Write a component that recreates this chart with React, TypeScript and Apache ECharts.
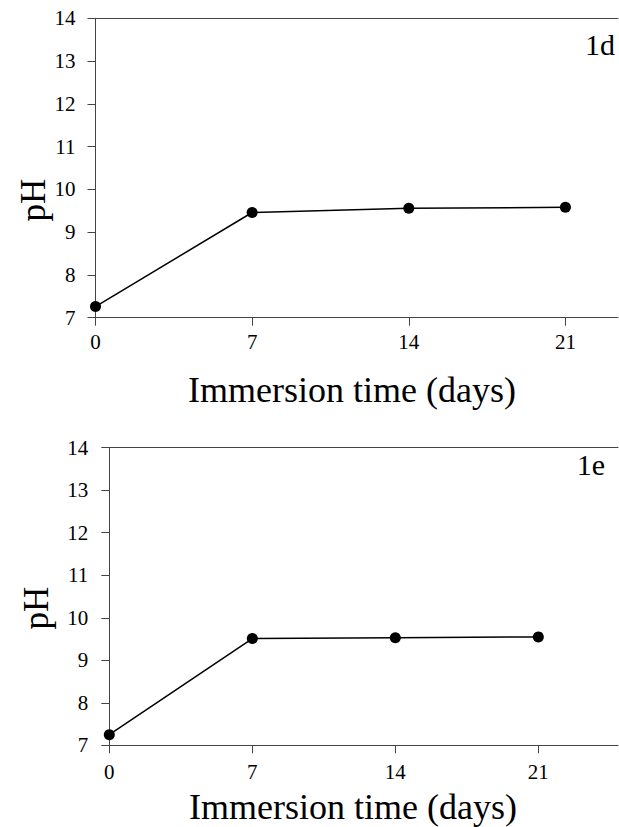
import React, { useEffect, useRef } from "react";
import * as echarts from "echarts";

const days = [0, 7, 14, 21];
const ph1d = [7.26, 9.46, 9.56, 9.58];
const ph1e = [7.25, 9.51, 9.53, 9.55];
const yTicks = [7, 8, 9, 10, 11, 12, 13, 14];
const xTicks = [0, 7, 14, 21];
const panelLabels = ["1d", "1e"];
const xTitle = "Immersion time (days)";
const yTitle = "pH";

const FONT = "'Liberation Serif', 'Times New Roman', serif";
const AXIS_COLOR = "#444";

export default function App() {
  const ref = useRef<HTMLDivElement>(null);
  useEffect(() => {
    document.body.style.margin = "0";
    const chart = echarts.init(ref.current!, null, { renderer: "svg" });
    const mkX = (gi: number, max: number, margin: number) => [
      {
        type: "value",
        gridIndex: gi,
        min: 0,
        max,
        interval: 7,
        position: "bottom",
        axisLine: { show: true, lineStyle: { color: AXIS_COLOR, width: 1 } },
        axisTick: { show: true, length: 8, lineStyle: { color: AXIS_COLOR }, customValues: xTicks },
        axisLabel: { customValues: xTicks, margin, fontFamily: FONT, fontSize: 21, color: "#000" },
        splitLine: { show: false },
      },
      {
        type: "value",
        gridIndex: gi,
        min: 0,
        max,
        position: "top",
        axisLine: { show: true, lineStyle: { color: AXIS_COLOR, width: 1 } },
        axisTick: { show: false },
        axisLabel: { show: false },
        splitLine: { show: false },
      },
    ];
    const mkY = (gi: number, margin: number) => ({
      type: "value",
      gridIndex: gi,
      min: 7,
      max: 14,
      interval: 1,
      axisLine: { show: true, lineStyle: { color: AXIS_COLOR, width: 1 } },
      axisTick: { show: true, length: 8, lineStyle: { color: AXIS_COLOR } },
      axisLabel: { margin, fontFamily: FONT, fontSize: 21, color: "#000", customValues: yTicks },
      splitLine: { show: false },
    });
    const mkSeries = (gi: number, vals: number[]) => ({
      type: "line",
      xAxisIndex: gi * 2,
      yAxisIndex: gi,
      data: days.map((d, i) => [d, vals[i]]),
      symbol: "circle",
      symbolSize: 11,
      lineStyle: { color: "#000", width: 1.5 },
      itemStyle: { color: "#000" },
      clip: false,
    });
    chart.setOption({
      animation: false,
      backgroundColor: "#fff",
      grid: [
        { left: 95.5, top: 18.3, width: 522.5, height: 299.4 },
        { left: 109.3, top: 447.7, width: 508.7, height: 297.6 },
      ],
      xAxis: [...mkX(0, 23.35, 14), ...mkX(1, 24.9, 16)],
      yAxis: [mkY(0, 20), mkY(1, 21)],
      series: [mkSeries(0, ph1d), mkSeries(1, ph1e)],
      graphic: [
        { type: "text", x: 33, y: 200, rotation: Math.PI / 2, style: { text: yTitle, font: `35px ${FONT}`, fill: "#000", align: "center", verticalAlign: "middle" } },
        { type: "text", x: 36, y: 608, rotation: Math.PI / 2, style: { text: yTitle, font: `35px ${FONT}`, fill: "#000", align: "center", verticalAlign: "middle" } },
        { type: "text", x: 352, y: 390, style: { text: xTitle, font: `36px ${FONT}`, fill: "#000", align: "center", verticalAlign: "middle" } },
        { type: "text", x: 353, y: 807, style: { text: xTitle, font: `36px ${FONT}`, fill: "#000", align: "center", verticalAlign: "middle" } },
        { type: "text", x: 615, y: 44, style: { text: panelLabels[0], font: `30px ${FONT}`, fill: "#000", align: "right", verticalAlign: "middle" } },
        { type: "text", x: 605, y: 464, style: { text: panelLabels[1], font: `30px ${FONT}`, fill: "#000", align: "right", verticalAlign: "middle" } },
      ],
    });
    return () => chart.dispose();
  }, []);
  return <div ref={ref} style={{ position: "absolute", left: 0, top: 0, width: 619, height: 827 }} />;
}
